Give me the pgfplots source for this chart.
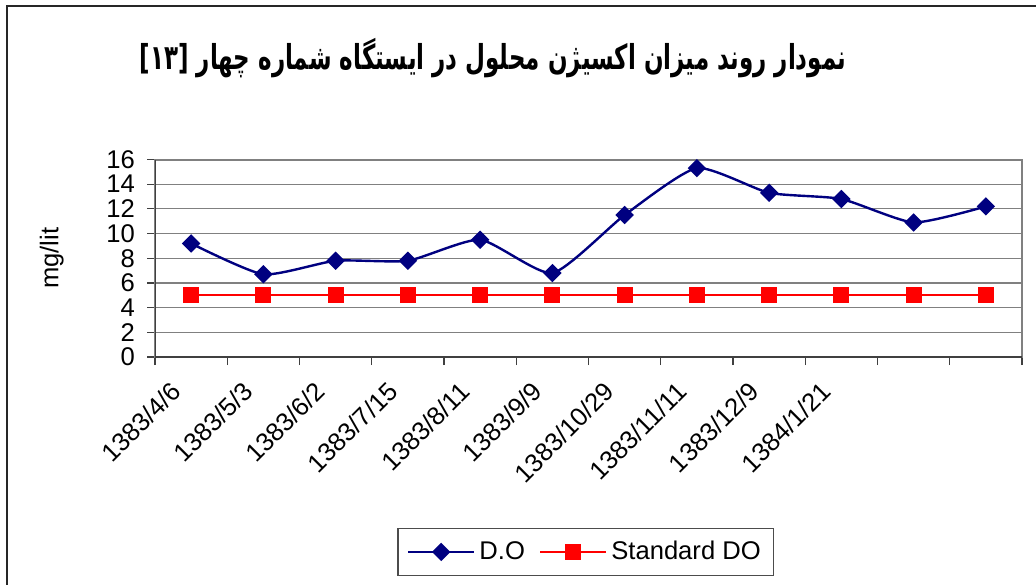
\documentclass[border=0pt]{standalone}
\usepackage{pgfplots}
\pgfplotsset{compat=1.18}
\usepackage{fontspec}
\setmainfont{Liberation Sans}
\newfontfamily\arabicfont[Script=Arabic]{DejaVu Sans}
\TeXXeTstate=1
\definecolor{navyc}{HTML}{000080}
\begin{document}
\begin{tikzpicture}
\useasboundingbox (0,0) rectangle (518pt,292pt);
\fill[white] (0,0) rectangle (518pt,292pt);
\draw[line width=1pt, black!85] (3.5pt,-20pt) -- (3.5pt,289pt) -- (540pt,289pt);
\node[font=\arabicfont\bfseries\fontsize{13.2}{16}\selectfont, xscale=0.87, yscale=1.3] at (246.5pt,263pt) {\beginR نمودار روند میزان اکسیژن محلول در ایستگاه شماره چهار \beginL[۱۳]\endL\endR};
\begin{axis}[
  at={(77.5pt,113.5pt)}, anchor=south west,
  scale only axis, width=433.5pt, height=98.75pt,
  xmin=0.5, xmax=12.5, ymin=0, ymax=16,
  ytick={0,2,...,16},
  xtick={0.5,1.5,2.5,3.5,4.5,5.5,6.5,7.5,8.5,9.5,10.5,11.5,12.5},
  xticklabels={1383/4/6,1383/5/3,1383/6/2,1383/7/15,1383/8/11,1383/9/9,1383/10/29,1383/11/11,1383/12/9,1384/1/21,,,},
  /pgf/number format/assume math mode=true,
  ticklabel style={font=\fontsize{12.8}{15}\selectfont},
  xticklabel style={xshift=13pt, yshift=-8.5pt, anchor=east, rotate=45},
  yticklabel style={xshift=-2.5pt},
  ymajorgrids, major grid style={gray, line width=0.6pt},
  axis line style={gray, line width=1pt},
  tick style={black!75, line width=0.6pt}, major tick length=4pt, tick align=outside, tick pos=left,
  ylabel={mg/lit},
  ylabel style={at={(axis description cs:-0.119,0.5)}, anchor=center, font=\fontsize{12.8}{15}\selectfont},
  legend style={at={(0.497,-0.987)}, anchor=center, legend columns=2, draw=black!70, line width=0.6pt, font=\fontsize{12.8}{15}\selectfont, inner sep=4.5pt, /tikz/every even column/.append style={column sep=5pt}},
  legend image code/.code={\draw[mark repeat=2,mark phase=2,#1] plot coordinates {(0pt,0pt) (16.5pt,0pt) (33pt,0pt)};},
]
\addplot[navyc, line width=1.2pt, smooth, tension=0.35, mark=square*, mark size=2.65pt, mark options={rotate=45, solid, fill=navyc}] coordinates {(1,9.2)(2,6.7)(3,7.8)(4,7.8)(5,9.5)(6,6.8)(7,11.5)(8,15.3)(9,13.3)(10,12.8)(11,10.9)(12,12.2)};
\addlegendentry{D.O}
\addplot[red, line width=1.2pt, mark=square*, mark size=3.4pt, mark options={fill=red, solid}] coordinates {(1,5)(2,5)(3,5)(4,5)(5,5)(6,5)(7,5)(8,5)(9,5)(10,5)(11,5)(12,5)};
\addlegendentry{Standard DO}
\draw[black!75, line width=1pt] (rel axis cs:0,1) -- (rel axis cs:0,0) -- (rel axis cs:1,0);
\end{axis}
\end{tikzpicture}
\end{document}
